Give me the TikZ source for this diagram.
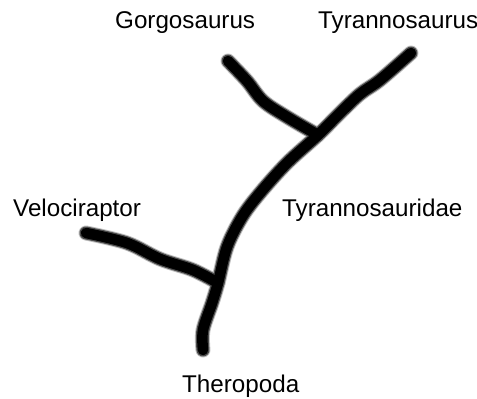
\documentclass[tikz,border=0pt]{standalone}
\usepackage{fontspec}
\setmainfont{Liberation Sans}
\begin{document}
\begin{tikzpicture}[x=1pt,y=-1pt,
  lbl/.style={anchor=base west,inner sep=0pt,font=\fontsize{24.2}{28}\selectfont},
  halo/.style={line width=15pt,line cap=round,line join=round,black!25},
  mid/.style={line width=13pt,line cap=round,line join=round,black!70},
  core/.style={line width=10.5pt,line cap=round,line join=round,black}]
\useasboundingbox (0,0) rectangle (477,399);
\node[lbl] (gor) at (115,28) {Gorgosaurus};
\node[lbl] (tyr) at (318,28) {Tyrannosaurus};
\node[lbl] (vel) at (13,216) {Velociraptor};
\node[lbl] (fam) at (282,216) {Tyrannosauridae};
\node[lbl] (the) at (182,392) {Theropoda};
\coordinate (root) at (203,350);
\coordinate (j1) at (218,283);
\coordinate (j2) at (318,135);
\coordinate (vend) at (86,233);
\coordinate (gend) at (228,61);
\coordinate (tend) at (411,53);
\foreach \s in {halo,mid,core}{
  \draw[\s] plot[smooth,tension=0.55] coordinates {(root) (203,330) (212,303) (j1) (227,247) (242,217) (260,193) (287,163) (j2) (340,113) (360,94) (380,80) (tend)};
  \draw[\s] plot[smooth,tension=0.55] coordinates {(gend) (247,81) (263,101) (287,117) (j2)};
  \draw[\s] plot[smooth,tension=0.55] coordinates {(vend) (127,243) (160,259) (193,270) (j1)};
}
\end{tikzpicture}
\end{document}
